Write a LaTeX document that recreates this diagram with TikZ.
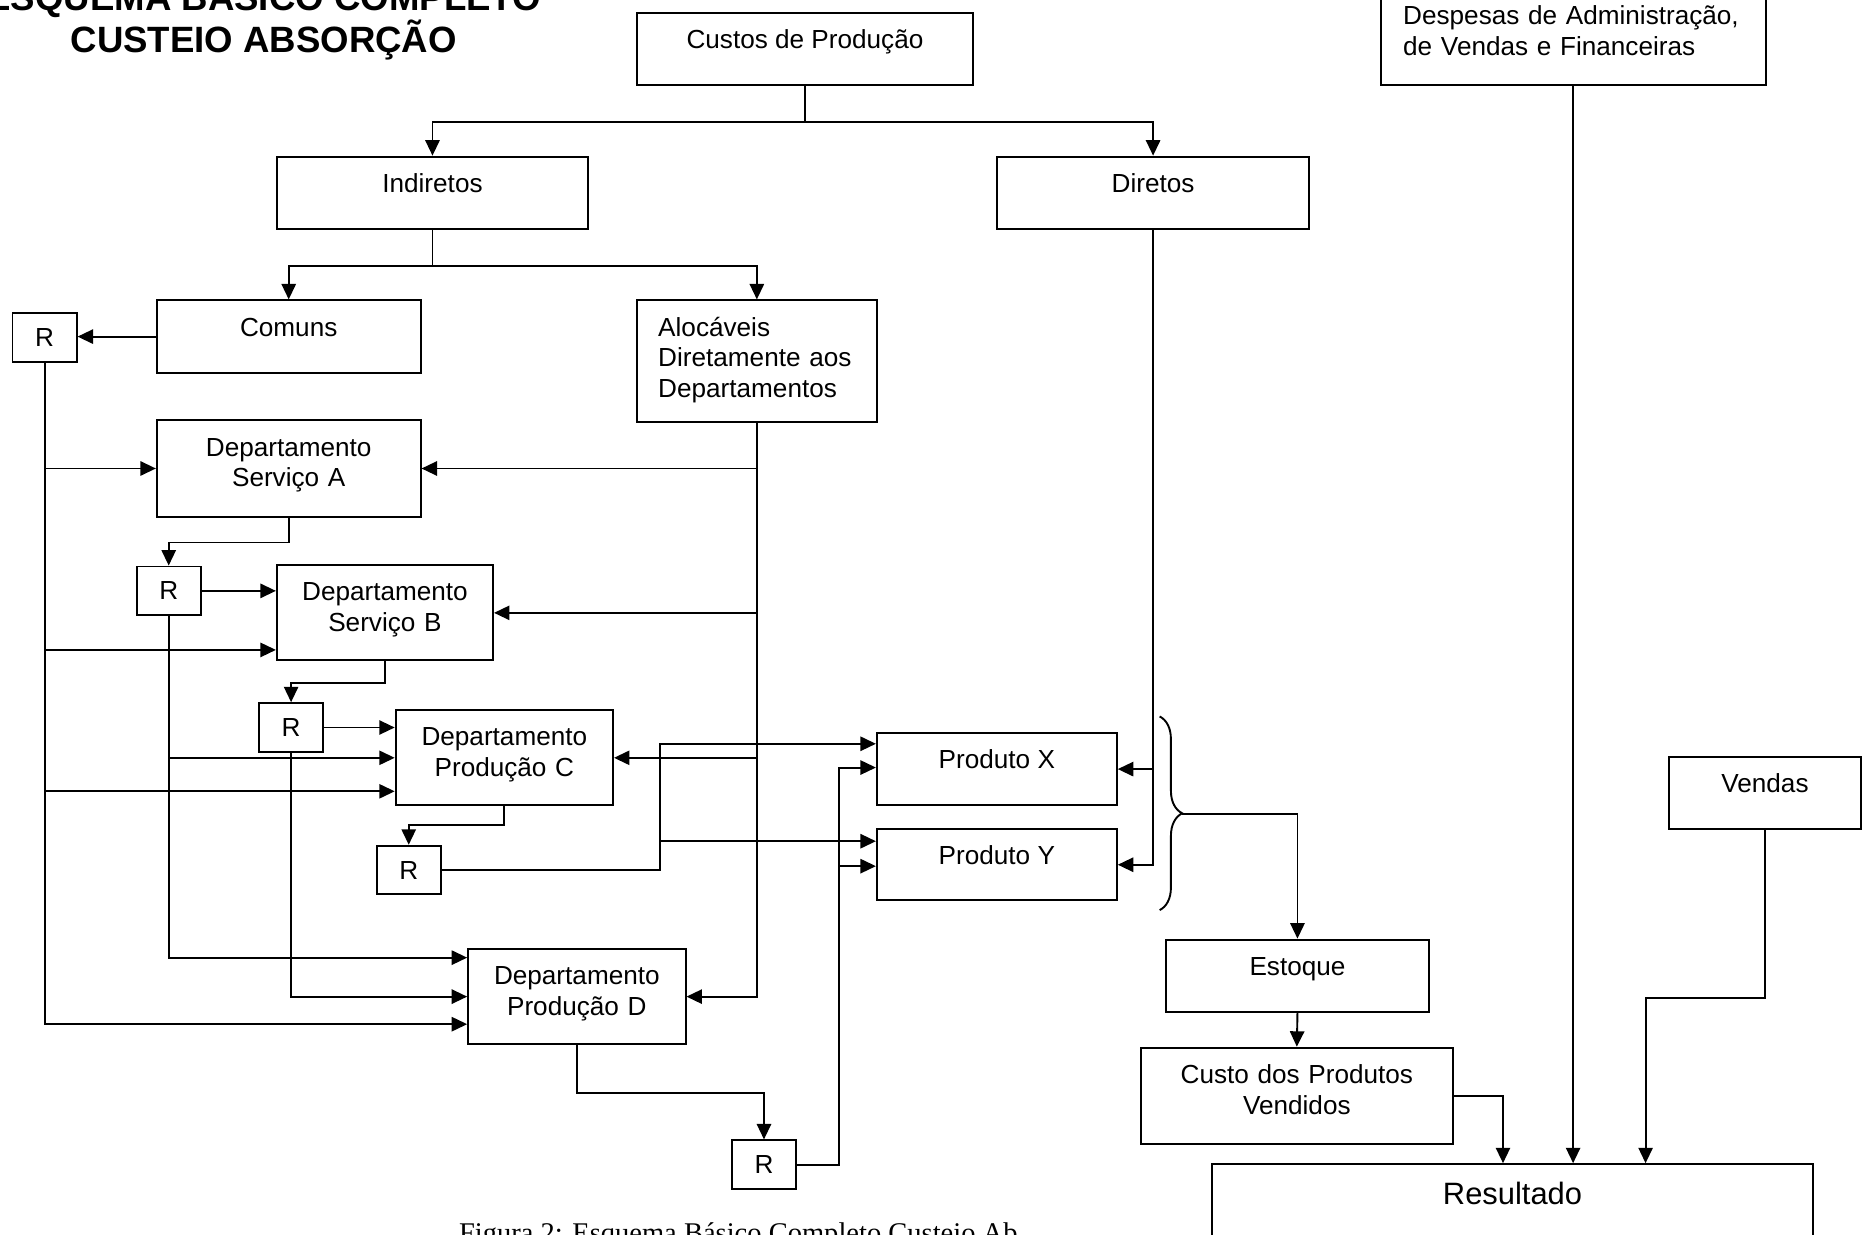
\documentclass[tikz,border=0pt]{standalone}
\usepackage{fontspec}
\setmainfont{Liberation Sans}
\newfontfamily\serifa{Liberation Serif}
\usetikzlibrary{arrows.meta,calc,decorations.pathreplacing}
\tikzset{
  caixa/.style={draw,line width=0.8pt,anchor=north,inner xsep=0pt,inner ysep=0pt,align=center,
                text height=15pt,text depth=15.5pt,font=\fontsize{11}{13}\selectfont},
  dupla/.style={text width=#1,text depth=25.5pt},
  rateio/.style={draw,line width=0.8pt,anchor=north,inner sep=0pt,minimum width=27pt,
                 minimum height=20.5pt,font=\fontsize{11}{13}\selectfont},
  seta/.style={-{Triangle[length=6.5pt,width=6pt]},line width=0.8pt},
  chave/.style={decorate,decoration={brace,amplitude=9.5pt},line width=0.8pt},
}

\begin{document}
\begin{tikzpicture}[x=0.5pt,y=-0.5pt]
  \useasboundingbox (0,0) rectangle (1568,1039);
  % titulo e legenda
  \node[font=\bfseries\fontsize{15.4}{17.5}\selectfont,align=center,anchor=south,inner sep=0pt] (titulo)
       at (222,51) {ESQUEMA BÁSICO COMPLETO\\CUSTEIO ABSORÇÃO};
  \node[font=\serifa\fontsize{12}{14}\selectfont,anchor=base west,inner sep=0pt] (legenda)
       at (386,1046) {Figura 2: Esquema Básico Completo Custeio Ab};
  % caixas
  \node[caixa,minimum width=141.5pt] (cp) at (677.5,10) {Custos de Produção};
  \node[caixa,minimum width=131pt] (ind) at (364,131) {Indiretos};
  \node[caixa,minimum width=131.5pt] (dir) at (970.5,131) {Diretos};
  \node[caixa,minimum width=111pt] (com) at (243,252) {Comuns};
  \node[caixa,text width=83pt,inner xsep=9pt,align=left,text depth=36pt] (alo) at (637,252)
       {Alocáveis\\Diretamente aos\\Departamentos};
  \node[rateio] (r1) at (37.5,263) {R};
  \node[caixa,dupla=111pt] (dsa) at (243,353) {Departamento\\Serviço A};
  \node[rateio] (r2) at (142,476) {R};
  \node[caixa,dupla=91pt,text depth=25pt] (dsb) at (324,475) {Departamento\\Serviço B};
  \node[rateio] (r3) at (245,591) {R};
  \node[caixa,dupla=91.5pt,text depth=25pt] (dpc) at (424.5,597) {Departamento\\Produção C};
  \node[rateio] (r4) at (344,711) {R};
  \node[caixa,dupla=91.5pt,text depth=25pt] (dpd) at (485.5,798) {Departamento\\Produção D};
  \node[rateio] (r5) at (643,959) {R};
  \node[caixa,minimum width=101pt] (px) at (839,616) {Produto X};
  \node[caixa,minimum width=101pt,text depth=15pt] (py) at (839,697) {Produto Y};
  \node[caixa,minimum width=111pt] (est) at (1092,790) {Estoque};
  \node[caixa,dupla=131.5pt] (cpv) at (1091.5,881) {Custo dos Produtos\\Vendidos};
  \node[caixa,minimum width=253pt,text height=17pt,text depth=40pt,font=\fontsize{13}{15}\selectfont]
       (res) at (1273,979) {Resultado};
  \node[caixa,dupla=143pt,inner xsep=9.5pt,align=left] (desp) at (1324,-10)
       {Despesas de Administração,\\de Vendas e Financeiras};
  \node[caixa,minimum width=80.5pt] (ven) at (1485.5,636) {Vendas};
  % custos de producao
  \draw[seta] (cp.south) -- ++(0,30) -| (ind.north);
  \draw[seta] (cp.south) -- ++(0,30) -| (dir.north);
  \draw[seta] (ind.south) -- ++(0,30) -| (com.north);
  \draw[seta] (ind.south) -- ++(0,30) -| (alo.north);
  \draw[seta] (com.west) -- (com.west -| r1.east);
  % rateio dos comuns
  \draw[seta] (r1.south) |- (dpd.west |- 0,862);
  \draw[seta] (r1.south |- dsa.west) -- (dsa.west);
  \draw[seta] (r1.south |- 0,547) -- (dsb.west |- 0,547);
  \draw[seta] (r1.south |- 0,666) -- (dpc.west |- 0,666);
  % alocaveis
  \draw[seta] (alo.south) |- (dpd.east);
  \draw[seta] (alo.south |- dsa.east) -- (dsa.east);
  \draw[seta] (alo.south |- dsb.east) -- (dsb.east);
  \draw[seta] (alo.south |- dpc.east) -- (dpc.east);
  % servico A
  \draw[seta] (dsa.south) -- ++(0,21) -| (r2.north);
  \draw[seta] (r2.east) -- (r2.east -| dsb.west);
  \draw[seta] (r2.south) |- (dpd.west |- 0,806);
  \draw[seta] (r2.south |- dpc.west) -- (dpc.west);
  % servico B
  \draw[seta] (dsb.south) -- ++(0,18) -| (r3.north);
  \draw[seta] (r3.east) -- (r3.east -| dpc.west);
  \draw[seta] (r3.south) |- (dpd.west);
  % producao C
  \draw[seta] (dpc.south) -- ++(0,16) -| (r4.north);
  \draw[seta] (r4.east) -- ++(184,0) |- (px.west |- 0,626);
  \draw[seta] (r4.east) -- ++(184,0) |- (py.west |- 0,708);
  % producao D
  \draw[seta] (dpd.south) -- ++(0,40) -| (r5.north);
  \draw[seta] (r5.east) -- ++(35,0) |- (px.west |- 0,646);
  \draw[seta] (r5.east) -- ++(35,0) |- (py.west |- 0,729);
  % diretos
  \draw[seta] (dir.south) |- (py.east);
  \draw[seta] (dir.south |- px.east) -- (px.east);
  % estoque e resultado
  \coordinate (chA) at (976,603);
  \coordinate (chB) at (976,766);
  \coordinate (ponta) at (995,685);
  \draw[chave] (chA) -- (chB);
  \draw[seta] (ponta) -| (est.north);
  \draw[seta] (est.south) -- (cpv.north);
  \draw[seta] (cpv.east) -| (1265,0 |- res.north);
  \draw[seta] (desp.south) -- (desp.south |- res.north);
  \draw[seta] (ven.south) -- ++(0,141) -| (1385,0 |- res.north);
\end{tikzpicture}
\end{document}
